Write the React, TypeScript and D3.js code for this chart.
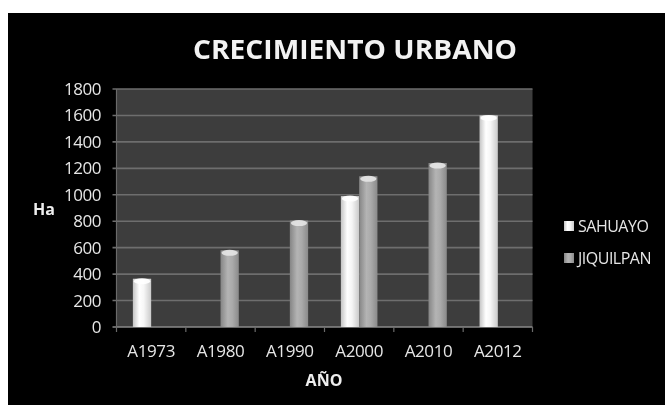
import React from "react";
import * as d3 from "d3";

const categories = ["A1973", "A1980", "A1990", "A2000", "A2010", "A2012"];
const seriesNames = ["SAHUAYO", "JIQUILPAN"];
const sahuayo: (number | null)[] = [365, null, null, 990, null, 1600];
const jiquilpan: (number | null)[] = [null, 580, 805, 1140, 1240, null];
const yTicks = [0, 200, 400, 600, 800, 1000, 1200, 1400, 1600, 1800];

const W = 665;
const H = 405;
const plot = { left: 116.5, right: 532.5, top: 89, bottom: 327 };
const font = "'Open Sans', 'DejaVu Sans', sans-serif";

export default function App() {
  const x = d3.scaleBand<string>().domain(categories).range([plot.left, plot.right]).padding(0);
  const bw = x.bandwidth();
  const groupW = 36.6;
  const inner = d3
    .scaleBand<string>()
    .domain(seriesNames)
    .range([(bw - groupW) / 2, (bw + groupW) / 2])
    .padding(0);
  const y = d3.scaleLinear().domain([0, 1800]).range([plot.bottom, plot.top]);
  const values = [sahuayo, jiquilpan];
  const fills = ["url(#gS)", "url(#gJ)"];
  const caps = ["#ffffff", "#e6e6e6"];

  return (
    <svg
      width={W}
      height={H}
      style={{ position: "absolute", left: 0, top: 0 }}
      xmlns="http://www.w3.org/2000/svg"
    >
      <defs>
        <linearGradient id="gS" x1="0" x2="1" y1="0" y2="0">
          <stop offset="0" stopColor="#c4c4c4" />
          <stop offset="0.35" stopColor="#ffffff" />
          <stop offset="0.6" stopColor="#f6f6f6" />
          <stop offset="1" stopColor="#cacaca" />
        </linearGradient>
        <linearGradient id="gJ" x1="0" x2="1" y1="0" y2="0">
          <stop offset="0" stopColor="#858585" />
          <stop offset="0.4" stopColor="#b4b4b4" />
          <stop offset="0.65" stopColor="#aaaaaa" />
          <stop offset="1" stopColor="#8a8a8a" />
        </linearGradient>
        <filter id="soft" x="-10%" y="-10%" width="120%" height="120%">
          <feGaussianBlur stdDeviation="0.5" />
        </filter>
        <filter id="softText" x="-10%" y="-30%" width="120%" height="160%">
          <feGaussianBlur stdDeviation="0.35" />
        </filter>
      </defs>
      <rect x={0} y={0} width={W} height={H} fill="#ffffff" />
      <rect x={8} y={13} width={W - 8} height={H - 13} fill="#000000" />

      <g filter="url(#softText)">
        <text
          x={355}
          y={59}
          textAnchor="middle"
          fontFamily={font}
          fontWeight="bold"
          fontSize={26}
          fill="#f2f2f2"
          textLength={324}
          lengthAdjust="spacingAndGlyphs"
        >
          CRECIMIENTO URBANO
        </text>
      </g>

      <g filter="url(#soft)">
        <rect
          x={plot.left}
          y={plot.top}
          width={plot.right - plot.left}
          height={plot.bottom - plot.top}
          fill="#3d3d3d"
        />
        {yTicks.map((t) => (
          <line
            key={t}
            x1={plot.left - 4}
            x2={plot.right}
            y1={y(t)}
            y2={y(t)}
            stroke={t === 0 ? "#8a8a8a" : "#6e6e6e"}
            strokeWidth={1.6}
          />
        ))}
        <line x1={plot.left} x2={plot.left} y1={plot.top} y2={plot.bottom} stroke="#6a6a6a" strokeWidth={1.2} />
        {categories.map((c) => (
          <line key={c} x1={x(c)!} x2={x(c)!} y1={plot.bottom} y2={plot.bottom + 5} stroke="#6a6a6a" strokeWidth={1.2} />
        ))}
        <line x1={plot.right} x2={plot.right} y1={plot.bottom} y2={plot.bottom + 5} stroke="#6a6a6a" strokeWidth={1.2} />

        {values.map((vals, si) =>
          categories.map((c, ci) => {
            const v = vals[ci];
            if (v == null) return null;
            const bx = x(c)! + inner(seriesNames[si])!;
            const w = inner.bandwidth();
            const top = y(v);
            return (
              <g key={`${si}-${c}`}>
                <rect x={bx} y={top} width={w} height={plot.bottom - top} fill={fills[si]} />
                <ellipse cx={bx + w / 2} cy={top + 2.5} rx={w / 2 - 1} ry={3} fill={caps[si]} opacity={0.9} />
              </g>
            );
          })
        )}
      </g>

      <g filter="url(#softText)">
        {yTicks.map((t) => (
          <text
            key={t}
            x={101}
            y={y(t) + 6}
            textAnchor="end"
            fontFamily={font}
            fontSize={17}
            fill="#e6e6e6"
            letterSpacing={-0.5}
          >
            {t}
          </text>
        ))}
        {categories.map((c) => (
          <text
            key={c}
            x={x(c)! + bw / 2}
            y={357}
            textAnchor="middle"
            fontFamily={font}
            fontSize={17}
            fill="#e6e6e6"
            letterSpacing={-0.4}
          >
            {c}
          </text>
        ))}
        <text x={324} y={386} textAnchor="middle" fontFamily={font} fontWeight="bold" fontSize={16} fill="#eeeeee">
          AÑO
        </text>
        <text x={44} y={215} textAnchor="middle" fontFamily={font} fontWeight="bold" fontSize={16} fill="#eeeeee">
          Ha
        </text>

        {seriesNames.map((s, i) => (
          <g key={s} transform={`translate(564, ${221 + i * 32})`}>
            <rect x={0} y={0} width={10} height={10} fill={fills[i]} />
            <text x={14} y={11} fontFamily={font} fontSize={16} fill="#e6e6e6" letterSpacing={-0.5}>
              {s}
            </text>
          </g>
        ))}
      </g>
    </svg>
  );
}
